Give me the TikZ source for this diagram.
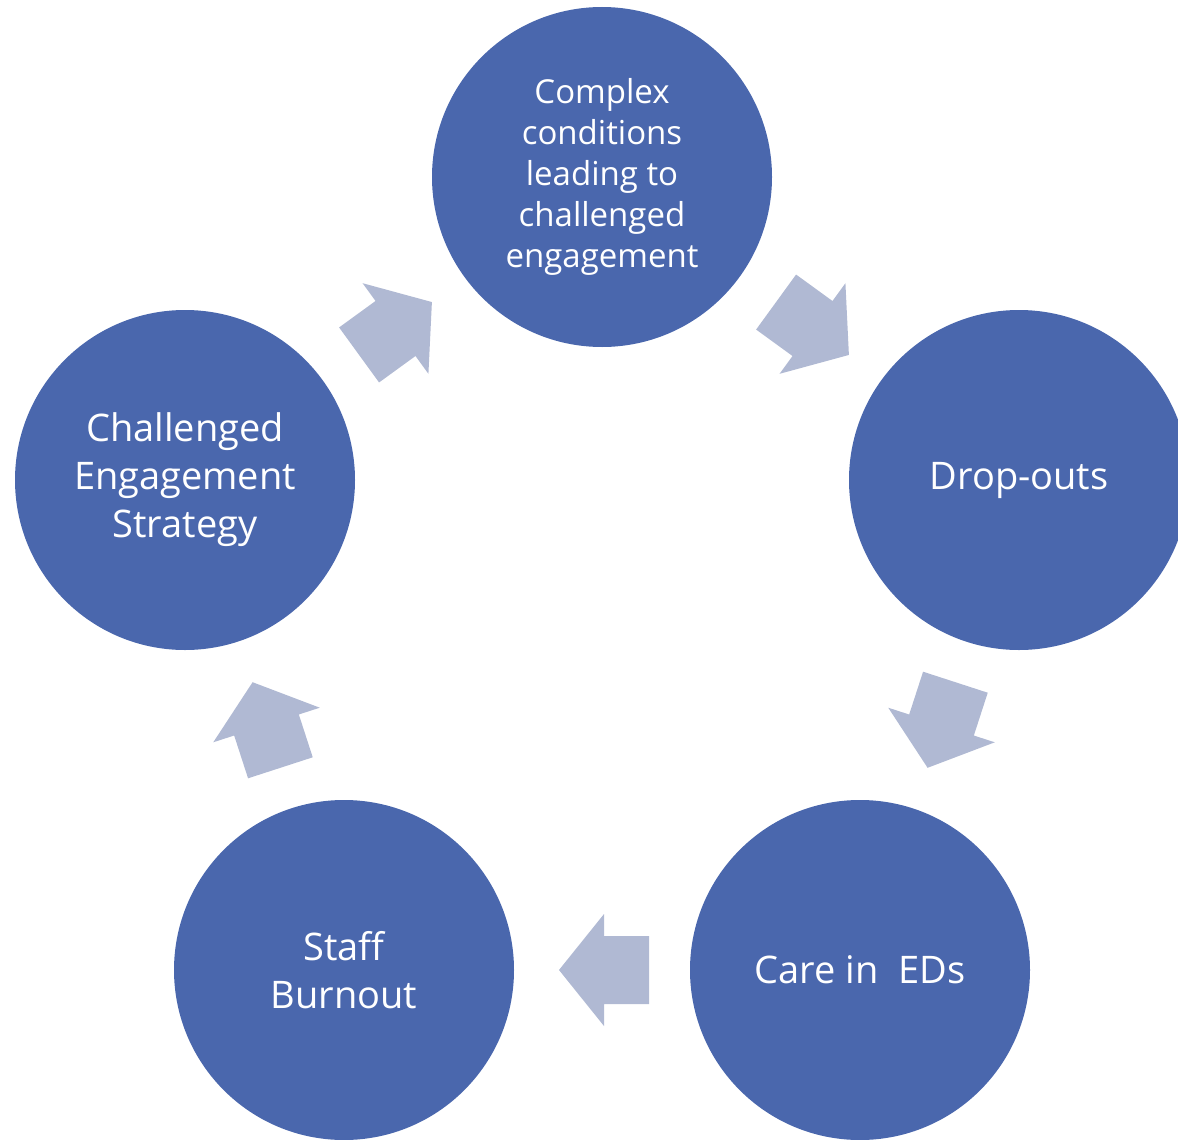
\documentclass[tikz,border=0pt]{standalone}
\usepackage{fontspec}
\setmainfont{Open Sans}
\usetikzlibrary{calc}
\definecolor{stageblue}{HTML}{4A67AD}
\definecolor{flowgrey}{HTML}{B0B9D3}
\tikzset{
  stage/.style={circle,fill=stageblue,minimum size=340pt,inner sep=0pt,text=white,align=center,
    font=\fontsize{38}{48}\selectfont},
  flow/.style={fill=flowgrey}
}
\begin{document}
\begin{tikzpicture}[x=1pt,y=1pt]
\clip (0,0) rectangle (1178,-1140);
\node[stage,font=\fontsize{33}{41}\selectfont] (conds) at (602,-177) {Complex\\conditions\\leading to\\challenged\\engagement};
\node[stage] (drop) at (1019,-480) {Drop-outs};
\node[stage] (care) at (860,-970) {Care in~~EDs};
\node[stage] (burn) at (344,-970) {Staff\\Burnout};
\node[stage] (strat) at (185,-480) {Challenged\\Engagement\\Strategy};
% block arrows half way between the circles
\foreach \a/\b/\ang in {conds/drop/-36,drop/care/-108,care/burn/180,burn/strat/108,strat/conds/36}
  \fill[flow,shift={($(\a)!0.5!(\b)+(2,0)$)},rotate=\ang] (-45,34) -- (0,34) -- (0,56) -- (45,0) -- (0,-56) -- (0,-34) -- (-45,-34) -- cycle;
\end{tikzpicture}
\end{document}
